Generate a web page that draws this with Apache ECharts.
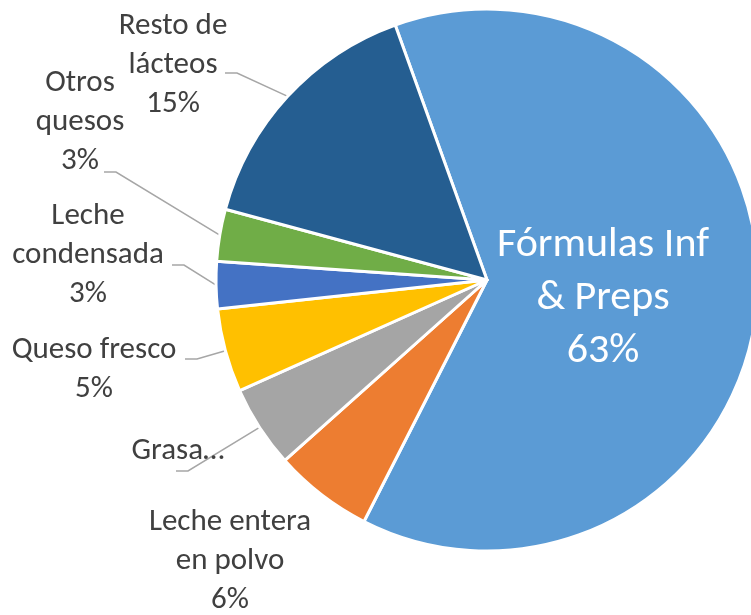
<!DOCTYPE html>
<html>
<head>
<meta charset="utf-8">
<script src="https://cdn.jsdelivr.net/npm/echarts@6/dist/echarts.min.js"></script>
<style>
html, body { margin: 0; padding: 0; background: #fff; }
#pie-chart { width: 751px; height: 615px; }
</style>
</head>
<body>
<div id="pie-chart"></div>
<script>
// categories (label line breaks as shown on the chart)
const categories = ['Fórmulas Inf\n& Preps', 'Leche entera\nen polvo', 'Grasa…', 'Queso fresco', 'Leche\ncondensada', 'Otros\nquesos', 'Resto de\nlácteos']
// share of each slice, %
const values = [63, 5.9, 4.9, 5.0, 2.8, 3.1, 15.3]
// the truncated "Grasa" label has no percentage
const showPercent = [true, true, false, true, true, true, true]

const colors = ['#5b9bd5', '#ed7d31', '#a5a5a5', '#ffc000', '#4472c4', '#70ad47', '#255e91']

// where Excel put each label: [centerX, centerY, lineEndX, lineEndY]
const labelSpots = [
  [603, 298, null, null],
  [230, 561, null, null],
  [178, 451, 176, 471],
  [94, 370, 185, 359],
  [88, 255, 172, 265],
  [80, 122, 104, 172],
  [173, 65, 225, 73]
]

const chart = echarts.init(document.getElementById('pie-chart'))
chart.setOption({
  animation: false,
  color: colors,
  textStyle: { fontFamily: 'Carlito, Lato, sans-serif' },
  series: [{
    type: 'pie',
    center: [487, 280],
    radius: [0, 271],
    startAngle: 109.8,
    clockwise: true,
    avoidLabelOverlap: false,
    itemStyle: { borderColor: '#fff', borderWidth: 3 },
    label: {
      show: true,
      position: 'outside',
      color: '#404040',
      fontSize: 31,
      lineHeight: 39,
      align: 'center',
      formatter: p => showPercent[p.dataIndex] ? p.name + '\n' + Math.round(p.percent) + '%' : p.name
    },
    labelLine: {
      show: true,
      lineStyle: { color: '#a6a6a6', width: 1.5 }
    },
    labelLayout: p => {
      const spot = labelSpots[p.dataIndex]
      const out = { x: spot[0], y: spot[1], align: 'center', verticalAlign: 'middle' }
      if (spot[2] != null && p.labelLinePoints) {
        const edge = p.labelLinePoints[0]
        out.labelLinePoints = [edge, [spot[2] + 12, spot[3]], [spot[2], spot[3]]]
      }
      return out
    },
    data: categories.map((name, i) => {
      const item = { name: name, value: values[i] }
      if (i === 0) {
        item.label = { position: 'inside', color: '#fff', fontSize: 42, lineHeight: 53 }
        item.labelLine = { show: false }
      }
      if (i === 1) item.labelLine = { show: false }
      return item
    })
  }]
})
</script>
</body>
</html>
